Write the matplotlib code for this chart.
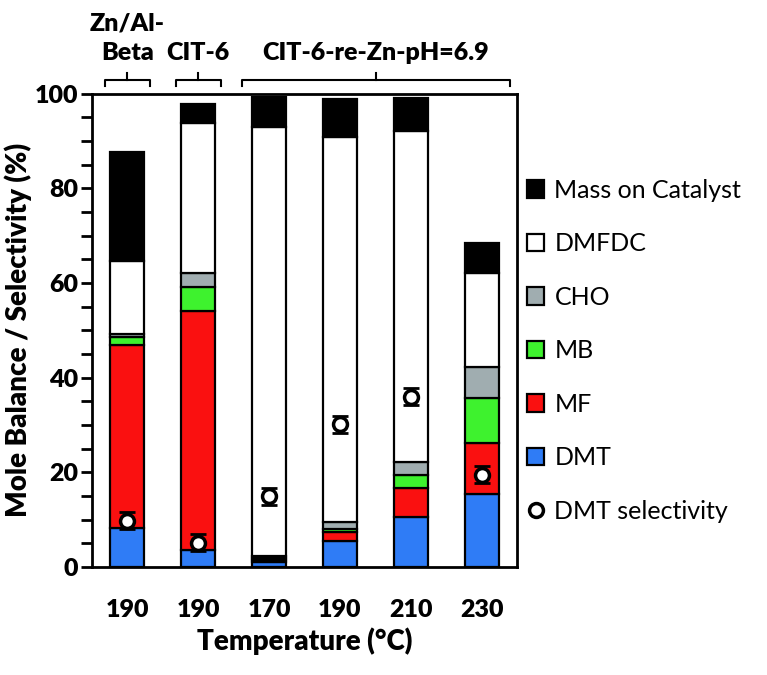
import numpy as np
import matplotlib
matplotlib.use("Agg")
import matplotlib.pyplot as plt
from matplotlib.lines import Line2D

plt.rcParams['font.family'] = ['Lato', 'DejaVu Sans']

# data
temps = ['190', '190', '170', '190', '210', '230']
dmt = [8.2, 3.5, 1.0, 5.4, 10.6, 15.4]
mf = [38.8, 50.5, 0.5, 2.0, 6.2, 10.9]
mb = [1.7, 5.1, 0.3, 0.7, 2.7, 9.4]
cho = [0.6, 3.0, 0.6, 1.5, 2.6, 6.6]
dmfdc = [15.4, 31.8, 90.6, 81.3, 70.1, 19.9]
mass_cat = [22.9, 4.0, 6.4, 8.0, 6.9, 6.2]
dmt_sel = [9.8, 5.1, 14.9, 30.2, 36.0, 19.5]
dmt_sel_err = [1.8, 1.8, 1.8, 1.8, 1.8, 1.8]

group_names = ['Zn/Al-\nBeta', 'CIT-6', 'CIT-6-re-Zn-pH=6.9']

layers = [
    ('DMT', dmt, '#2f7cf6'),
    ('MF', mf, '#fa1010'),
    ('MB', mb, '#3ef22e'),
    ('CHO', cho, '#a0adb0'),
    ('DMFDC', dmfdc, 'white'),
    ('Mass on Catalyst', mass_cat, 'black'),
]

BOLD = 'heavy'

fig = plt.figure(figsize=(7.67, 6.75), dpi=100)
ax = fig.add_axes([0.120, 0.160, 0.554, 0.701])

x = np.arange(len(temps))
bottom = np.zeros(len(temps))
handles = {}
for name, vals, col in layers:
    bars = ax.bar(x, vals, 0.48, bottom=bottom, color=col,
                  edgecolor='black', linewidth=1.6, label=name, zorder=2)
    handles[name] = bars
    bottom += np.array(vals)

ax.errorbar(x, dmt_sel, yerr=dmt_sel_err, fmt='none', ecolor='black',
            elinewidth=2, capsize=6, capthick=2, zorder=3)
sel = ax.plot(x, dmt_sel, 'o', ms=10, mfc='white', mec='black', mew=2.5,
              zorder=4, label='DMT selectivity')[0]

ax.set_xlim(-0.5, 5.5)
ax.set_ylim(0, 100)
ax.set_xticks(x)
ax.set_xticklabels(temps, fontsize=18, fontweight=BOLD)
ax.set_yticks(np.arange(0, 101, 20))
ax.set_yticks(np.arange(0, 101, 5), minor=True)
ax.tick_params(axis='y', which='both', direction='out', length=8, width=2,
               labelsize=18, pad=2)
ax.tick_params(axis='x', length=0, pad=23)
for lab in ax.get_yticklabels():
    lab.set_fontweight(BOLD)
for sp in ax.spines.values():
    sp.set_linewidth(2)

ax.set_xlabel('Temperature (°C)', fontsize=20, fontweight=BOLD, labelpad=5)
ax.set_ylabel('Mole Balance / Selectivity (%)', fontsize=20, fontweight=BOLD)
ax.yaxis.set_label_coords(-0.142, 0.5)

# group brackets above the axes
spans = [(-0.32, 0.32), (0.68, 1.32), (1.62, 5.40)]
for (x0, x1), name in zip(spans, group_names):
    xm = (x0 + x1) / 2
    ax.add_line(Line2D([x0, x0, x1, x1], [101.6, 103.0, 103.0, 101.6],
                       color='black', lw=1.5, clip_on=False))
    ax.add_line(Line2D([xm, xm], [103.0, 104.5], color='black', lw=1.5,
                       clip_on=False))
    ax.text(xm, 106.4, name, ha='center', va='bottom', fontsize=18,
            fontweight=BOLD, linespacing=1.4)

order = ['Mass on Catalyst', 'DMFDC', 'CHO', 'MB', 'MF', 'DMT']
leg_handles = [handles[n] for n in order] + [sel]
leg_labels = order + ['DMT selectivity']
ax.legend(leg_handles, leg_labels, loc='upper left',
          bbox_to_anchor=(1.0, 0.842), frameon=False, fontsize=18,
          handlelength=0.7, handleheight=0.7, handletextpad=0.4,
          labelspacing=1.22, borderaxespad=0)

fig.savefig('out.png', dpi=100)
